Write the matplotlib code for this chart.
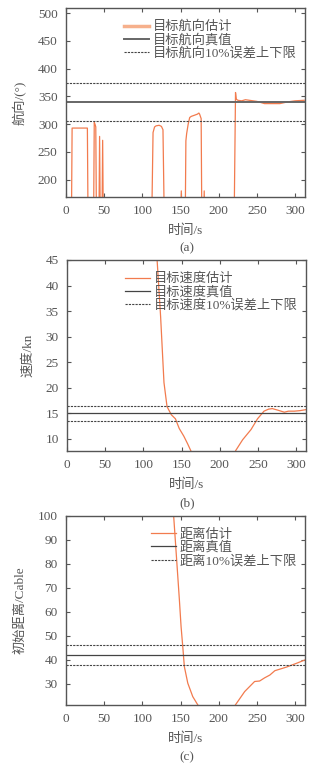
import numpy as np
import matplotlib
matplotlib.use("Agg")
import matplotlib.pyplot as plt

plt.rcParams['font.family'] = ['Liberation Serif', 'Noto Sans CJK SC']
plt.rcParams['axes.unicode_minus'] = False

# ---- data ----
time_head = [0, 7, 8, 28, 29, 36, 37, 38, 39, 40, 43, 44, 45, 47, 48, 49, 51,
             112, 114, 116, 118, 122, 125, 127, 129, 150, 151, 152, 156, 157, 158,
             160, 162, 164, 168, 172, 174, 175, 177, 178, 180, 181, 182, 220, 222,
             223, 225, 230, 235, 240, 250, 260, 270, 280, 290, 300, 312]
heading = [100, 100, 293, 293, 100, 100, 303, 300, 295, 100, 100, 278, 100, 100, 271, 100, 100,
           100, 285, 295, 297, 298, 296, 290, 100, 100, 180, 100, 100, 270, 283,
           300, 312, 314, 316, 318, 320, 318, 310, 100, 100, 180, 100, 100, 357,
           345, 343, 342, 344, 343, 341, 337, 337, 337, 340, 342, 343]
head_true = 340
head_bounds = [306, 374]

time_speed = [110, 118, 122.6, 127, 131, 136.6, 142, 147, 153, 158, 162, 170,
              214, 221, 230, 241, 249.5, 258, 264, 269, 276, 284.6, 290, 297.7, 305, 313]
speed = [60, 45, 33.9, 21, 16.3, 14.7, 13.9, 12, 10.5, 9, 7.7, 5,
         5, 7.7, 9.8, 11.8, 13.9, 15.4, 15.8, 15.9, 15.6, 15.2, 15.4, 15.4, 15.5, 15.7]
speed_true = 15
speed_bounds = [13.5, 16.5]

time_dist = [135, 141, 148.5, 150.7, 152.9, 155, 159.5, 166, 172.5, 180,
             215, 222, 234, 247, 253.6, 260, 267, 273.5, 288.7, 302, 313]
dist = [130, 100, 65, 53.9, 45.6, 37.2, 30.3, 24.7, 21.3, 18,
        18, 21.3, 26.8, 31, 31.2, 32.5, 33.7, 35.5, 37, 38.6, 40]
dist_true = 42
dist_bounds = [37.8, 46.2]

GREY = '#555555'
ORANGE = '#f27b4e'
W, H = 321, 766

fig = plt.figure(figsize=(W / 100, H / 100), dpi=100)


def make_ax(left, right, top, bottom):
    return fig.add_axes([left / W, 1 - bottom / H, (right - left) / W, (bottom - top) / H])


def style(ax, xlim, ylim, yticks):
    ax.set_xlim(*xlim)
    ax.set_ylim(*ylim)
    ax.set_xticks(np.arange(0, 301, 50))
    ax.set_yticks(yticks)
    ax.tick_params(direction='in', top=True, right=True, length=3, width=0.8,
                   colors=GREY, labelsize=9.5, labelcolor=GREY, pad=6)
    for s in ax.spines.values():
        s.set_color(GREY)
        s.set_linewidth(1.0)
    ax.set_xlabel('时间/s', fontsize=9.5, color=GREY, labelpad=5)


panels = [
    dict(box=(66, 305, 8, 197), t=time_head, y=heading, true=head_true, bnd=head_bounds,
         ylim=(169, 509), yticks=np.arange(200, 501, 50), ylabel='航向/(°)',
         names=['目标航向估计', '目标航向真值', '目标航向10%误差上下限'], cap='(a)', capy=248, thick=True),
    dict(box=(67, 306, 260, 451), t=time_speed, y=speed, true=speed_true, bnd=speed_bounds,
         ylim=(7.6, 45), yticks=np.arange(10, 46, 5), ylabel='速度/kn',
         names=['目标速度估计', '目标速度真值', '目标速度10%误差上下限'], cap='(b)', capy=503, thick=False),
    dict(box=(66, 305, 516, 705), t=time_dist, y=dist, true=dist_true, bnd=dist_bounds,
         ylim=(21.2, 100), yticks=np.arange(30, 101, 10), ylabel='初始距离/Cable',
         names=['距离估计', '距离真值', '距离10%误差上下限'], cap='(c)', capy=757, thick=False),
]

for p in panels:
    ax = make_ax(*p['box'])
    est, = ax.plot(p['t'], p['y'], color=ORANGE, lw=0.9)
    tru = ax.axhline(p['true'], color='#666666' if p['thick'] else '#444444',
                     lw=1.4 if p['thick'] else 0.9)
    for b in p['bnd']:
        dsh = ax.axhline(b, color='#444444', lw=0.8, ls=(0, (2, 1)))
    style(ax, (0, 313), p['ylim'], p['yticks'])
    ax.set_ylabel(p['ylabel'], fontsize=9.5, color=GREY, labelpad=8)
    if p['thick']:
        est_h = plt.Line2D([], [], color='#f6b08c', lw=2.5)
    else:
        est_h = plt.Line2D([], [], color=ORANGE, lw=0.9)
    ax.legend([est_h, tru, dsh], p['names'], loc='upper right', bbox_to_anchor=(1.0, 0.975),
              frameon=False, fontsize=9.5, handlelength=1.9, handletextpad=0.3,
              labelspacing=0.05, borderaxespad=0.2, labelcolor=GREY)
    fig.text(187 / W, 1 - p['capy'] / H, p['cap'], ha='center', va='center',
             fontsize=9.5, color=GREY)

fig.savefig('out.png', dpi=100)
